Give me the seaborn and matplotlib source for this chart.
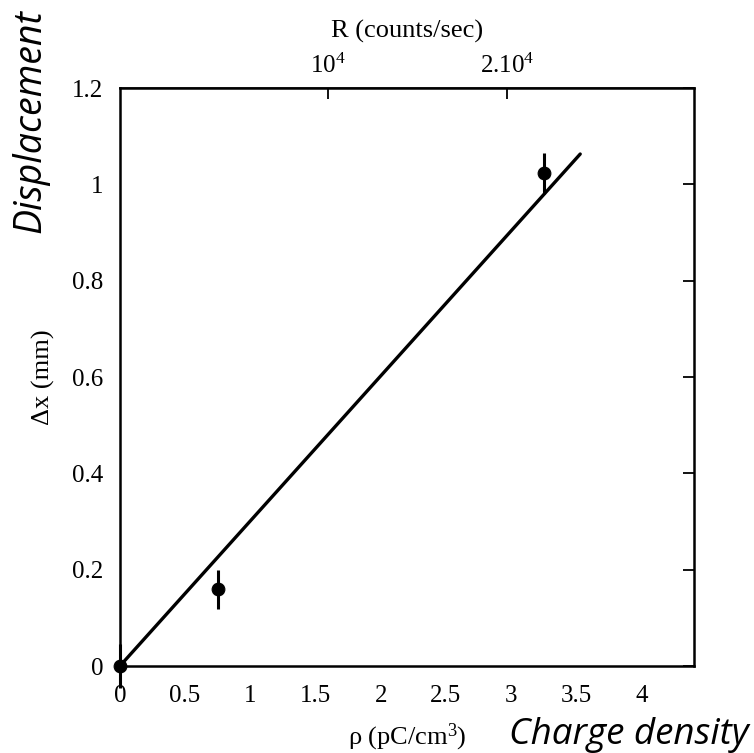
import matplotlib
matplotlib.use("Agg")
import matplotlib.pyplot as plt
import seaborn as sns
import pandas as pd

# measured displacement vs charge density
rho_vals = [0.0, 0.75, 3.25]
dx_vals = [0.0, 0.159, 1.023]
dx_err = [0.045, 0.041, 0.043]

# linear fit drawn across the data range
fit_rho = [0.0, 3.53]
fit_dx = [0.0, 1.063]

# bottom / left tick labels
x_ticks = [0, 0.5, 1, 1.5, 2, 2.5, 3, 3.5, 4]
x_tick_labels = ["0", "0.5", "1", "1.5", "2", "2.5", "3", "3.5", "4"]
y_ticks = [0, 0.2, 0.4, 0.6, 0.8, 1.0, 1.2]
y_tick_labels = ["0", "0.2", "0.4", "0.6", "0.8", "1", "1.2"]

# count-rate scale on the top axis (positions in charge-density units)
r_tick_rho = [1.593, 2.971]
r_tick_labels = [r"$10^4$", r"$2.10^4$"]

sns.set_theme(style="white")
plt.rcParams["font.family"] = ["Liberation Serif", "DejaVu Serif"]
plt.rcParams["mathtext.fontset"] = "custom"
plt.rcParams["mathtext.rm"] = "Liberation Serif"
plt.rcParams["mathtext.it"] = "Liberation Serif:italic"

fig = plt.figure(figsize=(7.54, 7.53), dpi=100)
ax = fig.add_axes([0.159, 0.1155, 0.761, 0.7676])

points = pd.DataFrame({"rho": rho_vals, "dx": dx_vals, "err": dx_err})
fit = pd.DataFrame({"rho": fit_rho, "dx": fit_dx})

sns.lineplot(data=fit, x="rho", y="dx", ax=ax, color="black", linewidth=2.4,
             zorder=2)
ax.errorbar(points["rho"], points["dx"], yerr=points["err"], fmt="none",
            ecolor="black", elinewidth=2.2, capsize=0, zorder=3, clip_on=False)
sns.scatterplot(data=points, x="rho", y="dx", ax=ax, color="black", s=85,
                edgecolor="black", zorder=4, clip_on=False)

ax.set_xlim(0, 4.4)
ax.set_ylim(0, 1.2)
ax.set_xticks(x_ticks)
ax.set_xticklabels(x_tick_labels)
ax.set_yticks(y_ticks)
ax.set_yticklabels(y_tick_labels)
ax.tick_params(axis="both", direction="in", length=8, width=1.3,
               labelsize=18, colors="black")
ax.tick_params(axis="x", pad=14)
ax.tick_params(axis="y", right=True, pad=12)
for sp in ax.spines.values():
    sp.set_linewidth(1.8)
    sp.set_color("black")

ax.set_xlabel(r"ρ (pC/cm$^3$)", fontsize=19, labelpad=10, color="black")
ax.set_ylabel("Δx (mm)", fontsize=19, labelpad=12, color="black")

top = ax.secondary_xaxis("top")
top.set_xticks(r_tick_rho)
top.set_xticklabels(r_tick_labels)
top.tick_params(direction="in", length=8, width=1.3, labelsize=18, pad=7,
                colors="black")
top.set_xlabel("R (counts/sec)", fontsize=19, labelpad=12, color="black")

fig.text(0.040, 0.988, "Displacement", rotation=90, ha="center", va="top",
         fontsize=27, style="italic", family=["Open Sans", "DejaVu Sans"],
         color="black")
fig.text(0.993, 0.024, "Charge density", ha="right", va="center",
         fontsize=26.5, style="italic", family=["Open Sans", "DejaVu Sans"],
         color="black")

fig.savefig("out.png", dpi=100, facecolor="white")
